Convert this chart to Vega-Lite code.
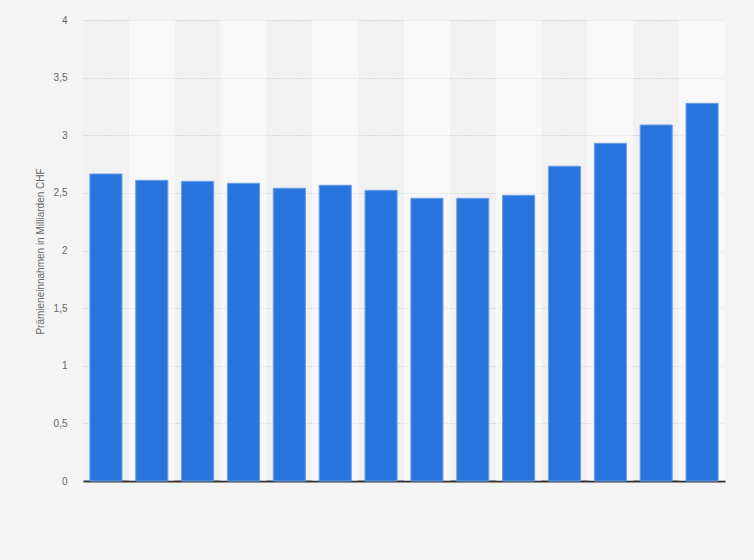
{
  "$schema": "https://vega.github.io/schema/vega-lite/v6.json",
  "width": 642,
  "height": 461,
  "autosize": {"type": "none"},
  "padding": {"left": 83, "top": 20, "right": 29, "bottom": 79},
  "background": "#f4f4f4",
  "data": {
    "values": [
      {"jahr": "1", "wert": 2.664},
      {"jahr": "2", "wert": 2.609},
      {"jahr": "3", "wert": 2.6},
      {"jahr": "4", "wert": 2.583},
      {"jahr": "5", "wert": 2.54},
      {"jahr": "6", "wert": 2.566},
      {"jahr": "7", "wert": 2.522},
      {"jahr": "8", "wert": 2.453},
      {"jahr": "9", "wert": 2.453},
      {"jahr": "10", "wert": 2.479},
      {"jahr": "11", "wert": 2.731},
      {"jahr": "12", "wert": 2.93},
      {"jahr": "13", "wert": 3.089},
      {"jahr": "14", "wert": 3.277}
    ]
  },
  "transform": [
    {"window": [{"op": "row_number", "as": "nr"}]},
    {"calculate": "datum.nr % 2 == 0 ? 'hell' : 'dunkel'", "as": "streifen"}
  ],
  "encoding": {
    "x": {
      "field": "jahr",
      "type": "ordinal",
      "sort": null,
      "scale": {"paddingInner": 0.3, "paddingOuter": 0.15},
      "axis": {
        "labels": false,
        "ticks": false,
        "title": null,
        "domainColor": "#333333",
        "domainWidth": 2,
        "grid": false
      }
    }
  },
  "layer": [
    {
      "mark": {"type": "bar", "width": {"band": 1.4286}, "strokeWidth": 0},
      "encoding": {
        "y": {"datum": 4, "type": "quantitative"},
        "y2": {"datum": 0},
        "color": {
          "field": "streifen",
          "type": "nominal",
          "scale": {"domain": ["hell", "dunkel"], "range": ["#ffffff", "#000000"]},
          "legend": null
        },
        "opacity": {
          "field": "streifen",
          "type": "nominal",
          "scale": {"domain": ["hell", "dunkel"], "range": [0.4, 0.012]},
          "legend": null
        }
      }
    },
    {
      "mark": {"type": "bar", "color": "#2876dd", "stroke": "#6a9fe6", "strokeWidth": 1},
      "encoding": {
        "y": {
          "field": "wert",
          "type": "quantitative",
          "scale": {"domain": [0, 4]},
          "axis": {
            "values": [0, 0.5, 1, 1.5, 2, 2.5, 3, 3.5, 4],
            "labelExpr": "replace(format(datum.value, '~g'), '.', ',')",
            "title": "Prämieneinnahmen in Milliarden CHF",
            "titleFont": "Liberation Sans",
            "titleFontSize": 10,
            "titleFontWeight": "normal",
            "titleColor": "#666666",
            "titleX": -43,
            "titleY": 231,
            "titleAlign": "center",
            "titleBaseline": "middle",
            "labelFont": "Liberation Sans",
            "labelFontSize": 10,
            "labelColor": "#666666",
            "labelPadding": 16,
            "ticks": false,
            "domain": false,
            "grid": true,
            "gridColor": "#c4c4c4",
            "gridDash": [1, 2],
            "gridWidth": 1
          }
        }
      }
    }
  ],
  "config": {
    "view": {"stroke": null}
  }
}
